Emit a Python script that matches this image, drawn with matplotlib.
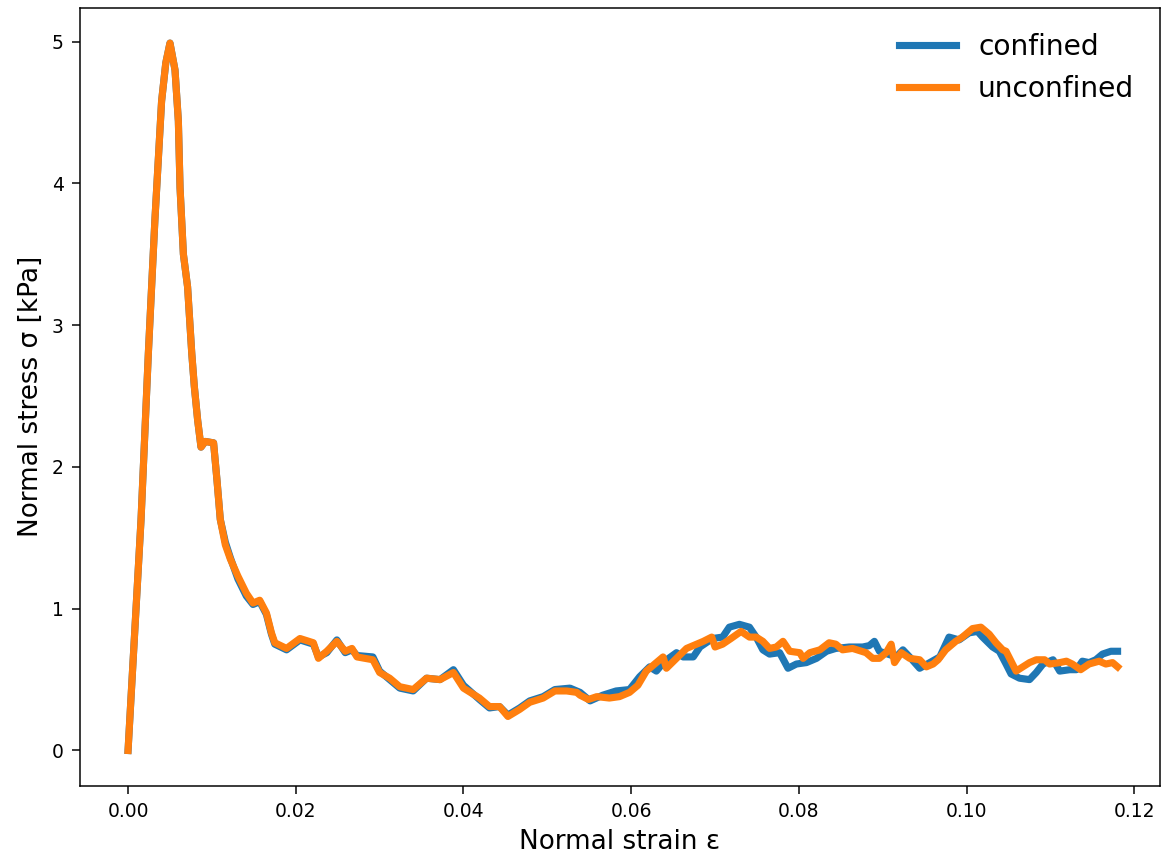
import matplotlib
matplotlib.use('Agg')
import matplotlib.pyplot as plt


# unconfined (orange) curve
strain_unconfined = [
    0.0, 0.00155, 0.00242, 0.0032, 0.0040, 0.0045, 0.0050, 0.0056, 0.0060, 0.0062,
    0.0066, 0.0071, 0.0076, 0.0079, 0.0083, 0.0087, 0.0092, 0.0102, 0.0106, 0.0110,
    0.0116, 0.0122, 0.0131, 0.0141, 0.0149, 0.0157, 0.0165, 0.0171, 0.0175, 0.0189,
    0.0205, 0.0221, 0.0227, 0.0237, 0.0249, 0.0259, 0.0267, 0.0273, 0.0292, 0.0300,
    0.0312, 0.0324, 0.0340, 0.0356, 0.0372, 0.0388, 0.0400, 0.0419, 0.0431, 0.0443,
    0.0453, 0.0467, 0.0479, 0.0495, 0.0509, 0.0523, 0.0535, 0.0539, 0.0549, 0.0559,
    0.0574, 0.0586, 0.0598, 0.0608, 0.0618, 0.0630, 0.0638, 0.0642, 0.0654, 0.0666,
    0.0678, 0.0686, 0.0696, 0.0700, 0.0709, 0.0719, 0.0731, 0.0741, 0.0749, 0.0757,
    0.0765, 0.0773, 0.0781, 0.0789, 0.0801, 0.0805, 0.0813, 0.0825, 0.0836, 0.0844,
    0.0852, 0.0864, 0.0880, 0.0888, 0.0896, 0.0904, 0.0910, 0.0914, 0.0922, 0.0932,
    0.0944, 0.0952, 0.0960, 0.0966, 0.0975, 0.0987, 0.0995, 0.1007, 0.1017, 0.1027,
    0.1035, 0.1043, 0.1047, 0.1053, 0.1059, 0.1067, 0.1075, 0.1083, 0.1093, 0.1099,
    0.1111, 0.1119, 0.1126, 0.1136, 0.1146, 0.1158, 0.1166, 0.1174, 0.1180,
]
stress_unconfined = [
    0.0, 1.63, 2.80, 3.74, 4.58, 4.85, 4.99, 4.80, 4.44, 3.97,
    3.50, 3.27, 2.80, 2.57, 2.33, 2.14, 2.18, 2.17, 1.91, 1.63,
    1.45, 1.35, 1.23, 1.11, 1.04, 1.06, 0.97, 0.83, 0.76, 0.72,
    0.79, 0.76, 0.65, 0.70, 0.77, 0.70, 0.72, 0.66, 0.64, 0.55,
    0.51, 0.45, 0.43, 0.51, 0.50, 0.55, 0.44, 0.37, 0.31, 0.31,
    0.24, 0.29, 0.34, 0.37, 0.42, 0.42, 0.41, 0.39, 0.36, 0.38,
    0.37, 0.38, 0.41, 0.46, 0.56, 0.62, 0.66, 0.58, 0.65, 0.72,
    0.75, 0.77, 0.80, 0.73, 0.75, 0.79, 0.84, 0.80, 0.80, 0.77,
    0.72, 0.73, 0.77, 0.70, 0.69, 0.65, 0.69, 0.71, 0.76, 0.75,
    0.71, 0.72, 0.69, 0.65, 0.65, 0.69, 0.75, 0.62, 0.69, 0.65,
    0.64, 0.59, 0.61, 0.64, 0.71, 0.77, 0.80, 0.86, 0.87, 0.82,
    0.76, 0.71, 0.70, 0.63, 0.56, 0.59, 0.62, 0.64, 0.64, 0.61,
    0.62, 0.63, 0.61, 0.57, 0.61, 0.63, 0.61, 0.62, 0.59,
]

# confined (blue) curve
strain_confined = [
    0.0, 0.00155, 0.00242, 0.0032, 0.0040, 0.0045, 0.0050, 0.0056, 0.0060, 0.0062,
    0.0066, 0.0071, 0.0076, 0.0079, 0.0083, 0.0087, 0.0092, 0.0102, 0.0106, 0.0110,
    0.0116, 0.0122, 0.0131, 0.0141, 0.0149, 0.0157, 0.0165, 0.0171, 0.0175, 0.0189,
    0.0205, 0.0221, 0.0227, 0.0237, 0.0249, 0.0259, 0.0267, 0.0273, 0.0292, 0.0300,
    0.0312, 0.0324, 0.0340, 0.0356, 0.0372, 0.0388, 0.0400, 0.0419, 0.0431, 0.0443,
    0.0453, 0.0467, 0.0479, 0.0495, 0.0509, 0.0527, 0.0539, 0.0551, 0.0566, 0.0582,
    0.0598, 0.0610, 0.0622, 0.0630, 0.0640, 0.0654, 0.0662, 0.0674, 0.0682, 0.0697,
    0.0709, 0.0717, 0.0729, 0.0741, 0.0749, 0.0757, 0.0765, 0.0777, 0.0787, 0.0797,
    0.0809, 0.0821, 0.0833, 0.0844, 0.0860, 0.0876, 0.0884, 0.0890, 0.0896, 0.0916,
    0.0924, 0.0932, 0.0944, 0.0956, 0.0968, 0.0979, 0.0991, 0.1003, 0.1013, 0.1019,
    0.1031, 0.1039, 0.1047, 0.1053, 0.1063, 0.1075, 0.1083, 0.1091, 0.1103, 0.1111,
    0.1123, 0.1131, 0.1138, 0.1146, 0.1154, 0.1162, 0.1172, 0.1180,
]
stress_confined = [
    0.0, 1.63, 2.80, 3.74, 4.58, 4.85, 4.99, 4.80, 4.44, 3.97,
    3.50, 3.27, 2.80, 2.57, 2.33, 2.14, 2.18, 2.17, 1.91, 1.63,
    1.47, 1.36, 1.21, 1.09, 1.03, 1.05, 0.96, 0.82, 0.75, 0.71,
    0.78, 0.75, 0.66, 0.69, 0.78, 0.69, 0.71, 0.67, 0.66, 0.56,
    0.50, 0.44, 0.42, 0.51, 0.50, 0.57, 0.46, 0.36, 0.30, 0.31,
    0.25, 0.30, 0.35, 0.38, 0.43, 0.44, 0.41, 0.35, 0.39, 0.42,
    0.43, 0.52, 0.59, 0.56, 0.63, 0.69, 0.66, 0.66, 0.73, 0.79,
    0.80, 0.87, 0.89, 0.87, 0.80, 0.71, 0.68, 0.69, 0.58, 0.61,
    0.62, 0.65, 0.70, 0.72, 0.73, 0.73, 0.74, 0.77, 0.70, 0.66,
    0.71, 0.66, 0.58, 0.62, 0.66, 0.80, 0.78, 0.83, 0.84, 0.80,
    0.73, 0.70, 0.61, 0.54, 0.51, 0.50, 0.55, 0.61, 0.64, 0.56,
    0.57, 0.57, 0.63, 0.62, 0.64, 0.68, 0.70, 0.70,
]

DPI = 135
fig = plt.figure(figsize=(1163 / DPI, 857 / DPI), dpi=DPI)
ax = fig.add_axes([0.069, 0.083, 0.928, 0.908])

ax.plot(strain_confined, stress_confined, color='#1f77b4', linewidth=3.8, label='confined')
ax.plot(strain_unconfined, stress_unconfined, color='#ff7f0e', linewidth=3.8, label='unconfined')

ax.set_xlim(-0.0057, 0.1230)
ax.set_xlabel('Normal strain ε', fontsize=14)
ax.set_ylabel('Normal stress σ [kPa]', fontsize=14)
ax.tick_params(labelsize=10, length=4.2, pad=4.5)
ax.legend(fontsize=15, frameon=False, loc='upper right')

fig.savefig('out.png', dpi=DPI)
